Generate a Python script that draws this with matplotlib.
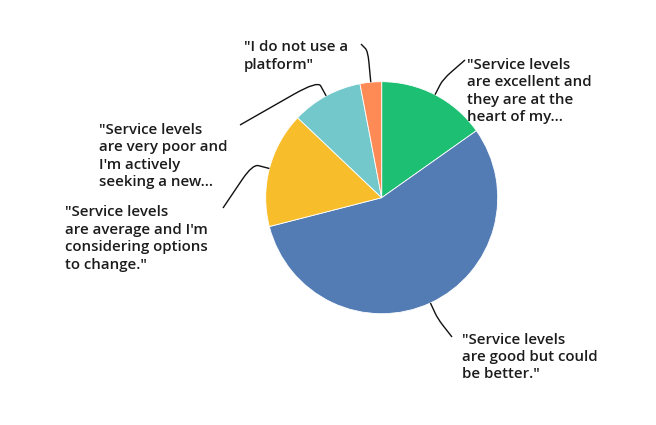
import numpy as np
import matplotlib.pyplot as plt
from matplotlib.path import Path
from matplotlib.patches import PathPatch

# answers, clockwise from 12 o'clock
answers = [
    '"Service levels\nare excellent and\nthey are at the\nheart of my...',
    '"Service levels\nare good but could\nbe better."',
    '"Service levels\nare average and I\'m\nconsidering options\nto change."',
    '"Service levels\nare very poor and\nI\'m actively\nseeking a new...',
    '"I do not use a\nplatform"',
]
shares = [15.2, 55.8, 16.1, 9.9, 3.0]
colors = ["#1dbf73", "#537cb5", "#f7bd2a", "#73c8cc", "#fe8b55"]

W, H = 656, 425
CX, CY, R = 381.7, 197.7, 116.0   # pie centre / radius in pixels


def px(x, y):
    """pixel position (from top-left) -> data units (pie radius = 1)"""
    return (x - CX) / R, (CY - y) / R


# label anchor (left, block centre) and leader end, in pixels
label_pos = [(467, 91), (462, 357), (65, 238.5), (99, 156), (244, 56)]
leader_end = [(465, 60), (452, 337), (223, 208), (240, 125), (361, 44)]
elbow_r = [1.15, 1.15, 1.15, 1.15, 1.27]

plt.rcParams['font.family'] = ['Open Sans', 'DejaVu Sans']

fig = plt.figure(figsize=(W / 100, H / 100), dpi=100)
ax = fig.add_axes([0, 0, 1, 1])
wedges, _ = ax.pie(shares, colors=colors, startangle=90, counterclock=False,
                   radius=1.0, wedgeprops=dict(edgecolor="white", linewidth=0.6))
ax.set_xlim(-CX / R, (W - CX) / R)
ax.set_ylim(-(H - CY) / R, CY / R)
ax.set_aspect('auto')
ax.axis('off')

for w, txt, lp, le, er in zip(wedges, answers, label_pos, leader_end, elbow_r):
    mid = np.deg2rad((w.theta1 + w.theta2) / 2)
    d = np.array([np.cos(mid), np.sin(mid)])
    p0 = d * 1.0
    p1 = d * er
    p2 = np.array(px(*le))
    # rounded corner at the elbow
    a = p1 + (p0 - p1) * 0.35
    b = p1 + (p2 - p1) * min(0.35, 0.12 / np.linalg.norm(p2 - p1) * 2)
    path = Path([p0, a, p1, b, p2],
                [Path.MOVETO, Path.LINETO, Path.CURVE3, Path.CURVE3, Path.LINETO])
    ax.add_patch(PathPatch(path, fill=False, lw=1.0, color="#111111"))
    tx, ty = px(*lp)
    ax.text(tx, ty, txt, ha='left', va='center', fontsize=10.8,
            fontweight='semibold', color="#1c1c1c", linespacing=1.31)

fig.savefig("out.png", dpi=100)
